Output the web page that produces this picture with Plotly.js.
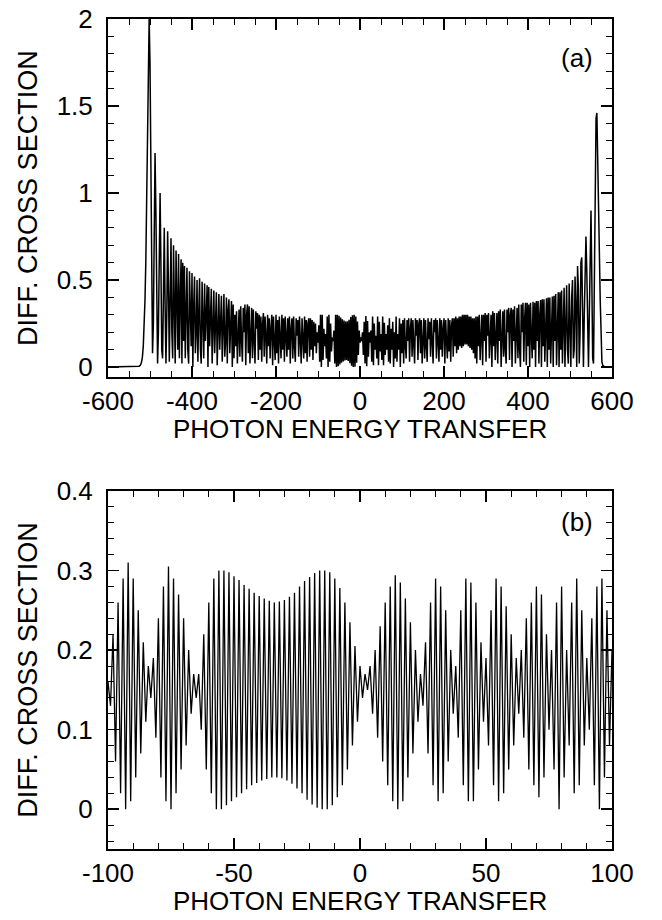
<!DOCTYPE html>
<html>
<head>
<meta charset="utf-8">
<script src="https://cdn.plot.ly/plotly-3.0.1.min.js"></script>
<style>html,body{margin:0;padding:0;background:#fff;}#chart{width:662px;height:920px;}</style>
</head>
<body>
<div id="chart"></div>
<script>
// Panel (a): photon energy transfer -600..600, sampled every 2 units (30 values = 60 units per row)
const xStartA = -600, xStepA = 2;
const yA = [
  0,0,0,0,0,0,0,0,0,0,0,0,0,0,0,0,0,0,0,0,0,0,0,0,0,0,0,0,0,0,
  0,0,0,0,0,0,0.002,0.004,0.008,0.015,0.03,0.06,0.12,0.22,0.38,0.6,0.95,1.35,1.8,2.0,1.75,1.1,0.45,0.08,0.25,0.95,1.23,0.9,0.3,0.02,
  0.2,0.8,1.0,0.6,0.1,0.05,0.55,0.8,0.35,0.02,0.3,0.78,0.45,0.03,0.4,0.74,0.2,0.05,0.7,0.35,0.02,0.67,0.25,0.1,0.65,0.05,0.4,0.62,0.02,0.6,
  0.15,0.58,0.05,0.3,0.57,0.1,0.02,0.55,0.25,0.12,0.54,0.0,0.35,0.52,0.08,0.2,0.5,0.03,0.3,0.51,0.1,0.02,0.49,0.25,0.05,0.48,0.15,0.3,0.47,0.0,
  0.46,0.12,0.35,0.45,0.02,0.25,0.44,0.08,0.3,0.43,0.01,0.2,0.42,0.1,0.32,0.41,0.03,0.28,0.42,0.06,0.15,0.4,0.02,0.33,0.39,0.08,0.22,0.38,0.0,0.36,
  0.05,0.3,0.12,0.32,0.02,0.25,0.33,0.06,0.35,0.15,0.03,0.34,0.2,0.36,0.01,0.3,0.36,0.08,0.35,0.02,0.28,0.34,0.05,0.33,0.15,0.02,0.32,0.22,0.31,0.04,
  0.3,0.1,0.29,0.03,0.25,0.31,0.06,0.29,0.18,0.02,0.3,0.12,0.28,0.05,0.22,0.3,0.01,0.29,0.15,0.04,0.3,0.08,0.27,0.02,0.29,0.2,0.05,0.3,0.1,0.28,
  0.03,0.29,0.15,0.06,0.28,0.1,0.29,0.02,0.22,0.28,0.05,0.29,0.12,0.03,0.28,0.18,0.27,0.06,0.29,0.1,0.02,0.28,0.2,0.05,0.29,0.08,0.27,0.03,0.25,0.28,
  0.06,0.28,0.1,0.27,0.04,0.26,0.12,0.25,0.08,0.2,0.14,0.24,0.03,0.3,0.0,0.3,0.04,0.22,0.12,0.19,0.05,0.29,0.0,0.3,0.03,0.25,0.09,0.17,0.15,0.21,
  0.02,0.3,0.0,0.3,0.005,0.295,0.015,0.285,0.025,0.275,0.032,0.268,0.038,0.262,0.04,0.263,0.035,0.272,0.022,0.287,0.008,0.297,0.0,0.3,0.002,0.29,0.025,0.262,0.07,0.21,
  0.14,0.17,0.15,0.2,0.07,0.26,0.02,0.294,0.005,0.265,0.06,0.2,0.14,0.21,0.03,0.29,0.01,0.25,0.1,0.18,0.05,0.29,0.01,0.26,0.09,0.19,0.04,0.29,0.01,0.255,
  0.07,0.19,0.1,0.24,0.03,0.28,0.02,0.22,0.1,0.26,0.0,0.2,0.05,0.29,0.03,0.19,0.1,0.28,0.0,0.25,0.08,0.27,0.02,0.28,0.12,0.05,0.27,0.15,0.28,0.03,
  0.22,0.28,0.06,0.27,0.13,0.02,0.28,0.18,0.27,0.04,0.25,0.28,0.08,0.27,0.02,0.2,0.28,0.05,0.27,0.12,0.03,0.28,0.16,0.26,0.06,0.28,0.1,0.02,0.27,0.2,
  0.28,0.05,0.27,0.14,0.03,0.28,0.1,0.27,0.06,0.22,0.28,0.02,0.27,0.15,0.05,0.28,0.09,0.27,0.03,0.24,0.28,0.06,0.28,0.12,0.29,0.08,0.28,0.1,0.29,0.12,
  0.29,0.11,0.3,0.12,0.3,0.13,0.3,0.13,0.3,0.12,0.29,0.11,0.29,0.1,0.28,0.08,0.28,0.05,0.29,0.02,0.29,0.12,0.3,0.04,0.22,0.3,0.01,0.3,0.15,0.31,
  0.03,0.3,0.18,0.31,0.05,0.25,0.3,0.0,0.32,0.12,0.31,0.04,0.22,0.31,0.02,0.32,0.15,0.33,0.0,0.28,0.32,0.06,0.33,0.1,0.02,0.33,0.2,0.34,0.04,0.3,
  0.34,0.0,0.33,0.15,0.35,0.02,0.3,0.34,0.05,0.36,0.1,0.0,0.36,0.2,0.37,0.03,0.28,0.37,0.01,0.37,0.12,0.36,0.0,0.37,0.18,0.05,0.375,0.1,0.37,0.0,
  0.38,0.15,0.38,0.02,0.3,0.385,0.0,0.39,0.12,0.39,0.03,0.25,0.395,0.0,0.4,0.1,0.4,0.02,0.33,0.405,0.0,0.41,0.15,0.42,0.01,0.3,0.43,0.0,0.43,0.1,
  0.44,0.02,0.35,0.455,0.0,0.2,0.47,0.1,0.02,0.48,0.3,0.0,0.4,0.5,0.05,0.1,0.52,0.35,0.0,0.58,0.45,0.02,0.2,0.6,0.63,0.15,0.0,0.3,0.68,0.75,
  0.55,0.08,0.0,0.3,0.8,0.9,0.5,0.05,0.02,0.4,1.1,1.43,1.46,1.25,0.95,0.65,0.38,0.12,0.03,0.01,0.004,0.001,0,0,0,0,0,0,0,0,
  0
];
// Panel (b): photon energy transfer -100..100, sampled every 1 unit
const xStartB = -100, xStepB = 1;
const yB = [
  0.16,0.13,0.22,0.06,0.26,0.02,0.29,0.0,0.31,0.01,0.29,0.04,0.25,0.07,0.21,0.11,0.18,0.14,0.19,0.09,
  0.24,0.04,0.28,0.01,0.305,0.0,0.29,0.02,0.27,0.05,0.24,0.08,0.2,0.12,0.17,0.14,0.17,0.1,0.22,0.05,
  0.26,0.02,0.29,0.0,0.3,0.0,0.3,0.005,0.298,0.01,0.293,0.015,0.288,0.02,0.282,0.025,0.277,0.03,0.272,0.033,
  0.268,0.036,0.265,0.038,0.262,0.04,0.26,0.04,0.261,0.039,0.263,0.036,0.267,0.032,0.272,0.026,0.28,0.02,0.287,0.012,
  0.292,0.006,0.297,0.002,0.3,0.0,0.3,0.0,0.298,0.005,0.29,0.015,0.278,0.03,0.26,0.05,0.235,0.08,0.205,0.11,
  0.18,0.14,0.17,0.15,0.18,0.12,0.2,0.09,0.23,0.06,0.26,0.03,0.28,0.01,0.294,0.0,0.285,0.01,0.265,0.04,
  0.235,0.07,0.2,0.11,0.17,0.13,0.21,0.07,0.26,0.03,0.29,0.01,0.28,0.02,0.25,0.06,0.2,0.12,0.18,0.09,
  0.25,0.03,0.29,0.01,0.285,0.01,0.26,0.05,0.21,0.11,0.19,0.08,0.25,0.03,0.29,0.01,0.28,0.02,0.255,0.05,
  0.22,0.08,0.19,0.12,0.2,0.09,0.24,0.05,0.26,0.03,0.28,0.015,0.27,0.04,0.22,0.1,0.2,0.05,0.26,0.0,
  0.28,0.04,0.2,0.08,0.26,0.02,0.29,0.03,0.25,0.08,0.19,0.1,0.24,0.03,0.28,0.0,0.29,0.04,0.25,0.08,
  0.2
];
const ticksA_x = [-600,-400,-200,0,200,400,600];
const ticksA_xText = ['-600','-400','-200','0','200','400','600'];
const ticksA_y = [0,0.5,1,1.5,2];
const ticksA_yText = ['0','0.5','1','1.5','2'];
const ticksB_x = [-100,-50,0,50,100];
const ticksB_xText = ['-100','-50','0','50','100'];
const ticksB_y = [0,0.1,0.2,0.3,0.4];
const ticksB_yText = ['0','0.1','0.2','0.3','0.4'];
const xTitle = 'PHOTON ENERGY TRANSFER';
const yTitle = 'DIFF. CROSS SECTION';

const xA = yA.map((_, i) => xStartA + i * xStepA);
const xB = yB.map((_, i) => xStartB + i * xStepB);

const FONT = '"Liberation Sans", Arial, Helvetica, sans-serif';

const traces = [
  {x: xA, y: yA, type: 'scatter', mode: 'lines', line: {color: '#000', width: 1.5}, xaxis: 'x', yaxis: 'y', hoverinfo: 'skip'},
  {x: xB, y: yB, type: 'scatter', mode: 'lines', line: {color: '#000', width: 1.3}, xaxis: 'x2', yaxis: 'y2', hoverinfo: 'skip'}
];

function axisBase() {
  return {
    showline: true, linecolor: '#000', linewidth: 2, mirror: 'ticks',
    ticks: 'inside', ticklen: 11, tickwidth: 1.5, tickcolor: '#000',
    showgrid: false, zeroline: false, fixedrange: true,
    tickfont: {family: FONT, size: 26, color: '#000'},
    tickmode: 'array'
  };
}

const layout = {
  width: 662, height: 920,
  margin: {l: 108, r: 50, t: 19, b: 71},
  paper_bgcolor: '#fff', plot_bgcolor: '#fff',
  showlegend: false, hovermode: false,
  font: {family: FONT, color: '#000'},
  xaxis: Object.assign(axisBase(), {
    domain: [0, 1], anchor: 'y', range: [-600, 600],
    tickvals: ticksA_x, ticktext: ticksA_xText,
    minor: {tick0: 0, dtick: 50, ticks: 'inside', ticklen: 6, tickwidth: 1, tickcolor: '#000'}
  }),
  yaxis: Object.assign(axisBase(), {
    domain: [0.5687, 1], anchor: 'x', range: [-0.057, 2],
    tickvals: ticksA_y, ticktext: ticksA_yText, ticklabelstandoff: 8,
    minor: {tick0: 0, dtick: 0.1, ticks: 'inside', ticklen: 6, tickwidth: 1, tickcolor: '#000'}
  }),
  xaxis2: Object.assign(axisBase(), {
    domain: [0, 1], anchor: 'y2', range: [-100, 100],
    tickvals: ticksB_x, ticktext: ticksB_xText,
    minor: {tick0: 0, dtick: 10, ticks: 'inside', ticklen: 6, tickwidth: 1, tickcolor: '#000'}
  }),
  yaxis2: Object.assign(axisBase(), {
    domain: [0, 0.4313], anchor: 'x2', range: [-0.05, 0.4],
    tickvals: ticksB_y, ticktext: ticksB_yText, ticklabelstandoff: 8,
    minor: {tick0: 0, dtick: 0.02, ticks: 'inside', ticklen: 6, tickwidth: 1, tickcolor: '#000'}
  }),
  annotations: [
    {text: yTitle, xref: 'paper', yref: 'paper', x: -0.159, y: 0.7843, xanchor: 'center', yanchor: 'middle', textangle: -90, showarrow: false, font: {family: FONT, size: 27, color: '#000'}},
    {text: yTitle, xref: 'paper', yref: 'paper', x: -0.159, y: 0.2157, xanchor: 'center', yanchor: 'middle', textangle: -90, showarrow: false, font: {family: FONT, size: 27, color: '#000'}},
    {text: xTitle, xref: 'paper', yref: 'paper', x: 0.5, y: 0.506, xanchor: 'center', yanchor: 'middle', showarrow: false, font: {family: FONT, size: 26, color: '#000'}},
    {text: xTitle, xref: 'paper', yref: 'paper', x: 0.5, y: -0.0627, xanchor: 'center', yanchor: 'middle', showarrow: false, font: {family: FONT, size: 26, color: '#000'}},
    {text: '(a)', xref: 'paper', yref: 'paper', x: 0.9655, y: 0.953, xanchor: 'right', yanchor: 'middle', showarrow: false, font: {family: FONT, size: 26, color: '#000'}},
    {text: '(b)', xref: 'paper', yref: 'paper', x: 0.9655, y: 0.394, xanchor: 'right', yanchor: 'middle', showarrow: false, font: {family: FONT, size: 26, color: '#000'}}
  ]
};

Plotly.newPlot('chart', traces, layout, {staticPlot: true, displayModeBar: false});
</script>
</body>
</html>
